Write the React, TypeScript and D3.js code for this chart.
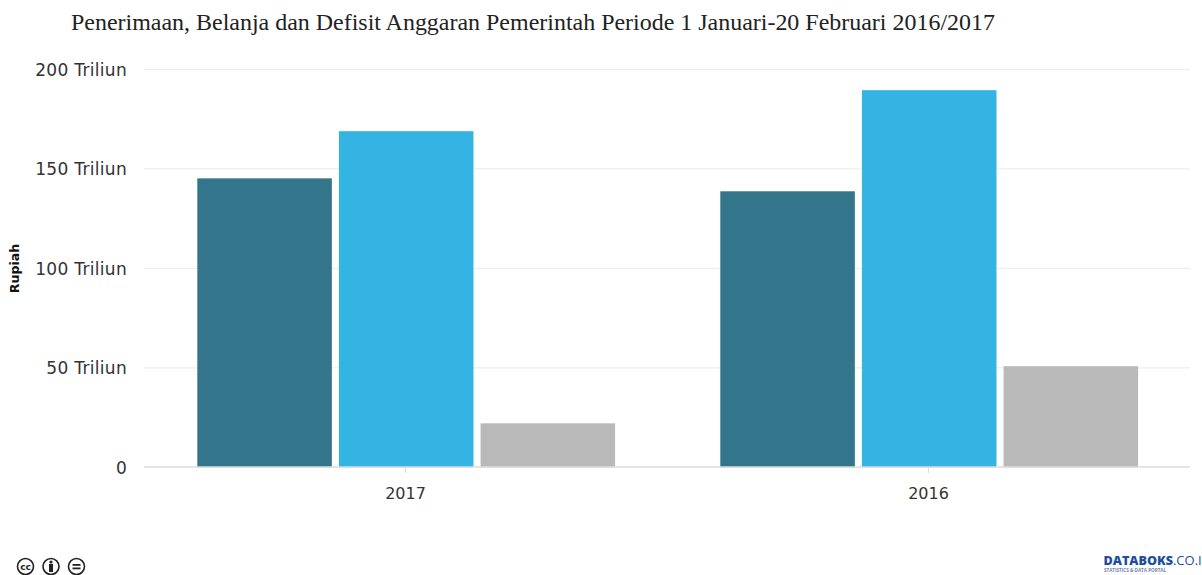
import React from "react";
import * as d3 from "d3";

const title = "Penerimaan, Belanja dan Defisit Anggaran Pemerintah Periode 1 Januari-20 Februari 2016/2017";
const categories = ["2017", "2016"];
const seriesNames = ["Penerimaan", "Belanja", "Defisit"];
const colors = ["#33758a", "#33b4e3", "#b9b9ba"];
const penerimaan = [145.2, 138.7];
const belanja = [168.9, 189.5];
const defisit = [22.1, 50.8];
const yTicks = [0, 50, 100, 150, 200];
const yTickLabels = ["0", "50 Triliun", "100 Triliun", "150 Triliun", "200 Triliun"];
const seriesValues = [penerimaan, belanja, defisit];

export default function App() {
  const x = d3.scaleBand<string>().domain(categories).range([144, 1190]);
  const inner = d3.scaleBand<string>().domain(seriesNames).range([53.3, 471.1]).paddingInner(0.05);
  const y = d3.scaleLinear().domain([0, 200]).range([467.3, 69.3]);
  const tickFont = "'DejaVu Sans', Verdana, sans-serif";
  return (
    <svg width={1202} height={575} style={{ position: "absolute", left: 0, top: 0, background: "#fff" }}>
      <text x={71} y={30} fontFamily="'Liberation Serif', serif" fontSize={23.96} fill="#222">{title}</text>
      {yTicks.filter((t) => t > 0).map((t) => (
        <line key={t} x1={144} x2={1190} y1={y(t)} y2={y(t)} stroke="#eeeeee" strokeWidth={1.3} />
      ))}
      {yTicks.map((t, i) => (
        <text key={t} x={127} y={y(t) + 6.5} textAnchor="end" fontFamily={tickFont} fontSize={17} letterSpacing={0.3} fill="#333">{yTickLabels[i]}</text>
      ))}
      <text transform="translate(19,268.5) rotate(-90)" textAnchor="middle" fontFamily={tickFont} fontSize={12.6} fontWeight="bold" fill="#111">Rupiah</text>
      {categories.map((c, ci) =>
        seriesNames.map((s, si) => (
          <rect key={c + s} x={x(c)! + inner(s)!} width={inner.bandwidth()} y={y(seriesValues[si][ci])}
            height={y(0) - y(seriesValues[si][ci])} fill={colors[si]} />
        ))
      )}
      <line x1={144} x2={1190} y1={467} y2={467} stroke="#dddddd" strokeWidth={1.3} />
      {categories.map((c) => {
        const cx = x(c)! + x.bandwidth() / 2;
        return (
          <g key={c}>
            <line x1={cx} x2={cx} y1={467} y2={473} stroke="#dddddd" />
            <text x={cx} y={498.5} textAnchor="middle" fontFamily={tickFont} fontSize={16} fill="#333">{c}</text>
          </g>
        );
      })}
      <g fill="none" stroke="#222" strokeWidth={1.6}>
        <circle cx={25.5} cy={566.5} r={8} />
        <circle cx={51} cy={566.5} r={8} />
        <circle cx={76.5} cy={566.5} r={8} />
      </g>
      <text x={25.5} y={570} textAnchor="middle" fontFamily={tickFont} fontSize={9} fontWeight="bold" fill="#222">cc</text>
      <circle cx={51} cy={562} r={1.6} fill="#222" />
      <rect x={49} y={564} width={4} height={8} fill="#222" />
      <rect x={72.5} y={564} width={8} height={1.8} fill="#222" />
      <rect x={72.5} y={567.5} width={8} height={1.8} fill="#222" />
      <text x={1103.5} y={565} fontFamily="'Open Sans', 'DejaVu Sans', sans-serif" fontSize={12.6} fontWeight="800" fill="#1f4f9c">DATABOKS<tspan fontWeight="400" fontSize={13}>.CO.I</tspan></text>
      <text x={1104} y={572} fontFamily="'Open Sans', sans-serif" fontSize={4.6} fontWeight="700" fill="#6f86ad">STATISTICS &amp; DATA PORTAL</text>
    </svg>
  );
}
